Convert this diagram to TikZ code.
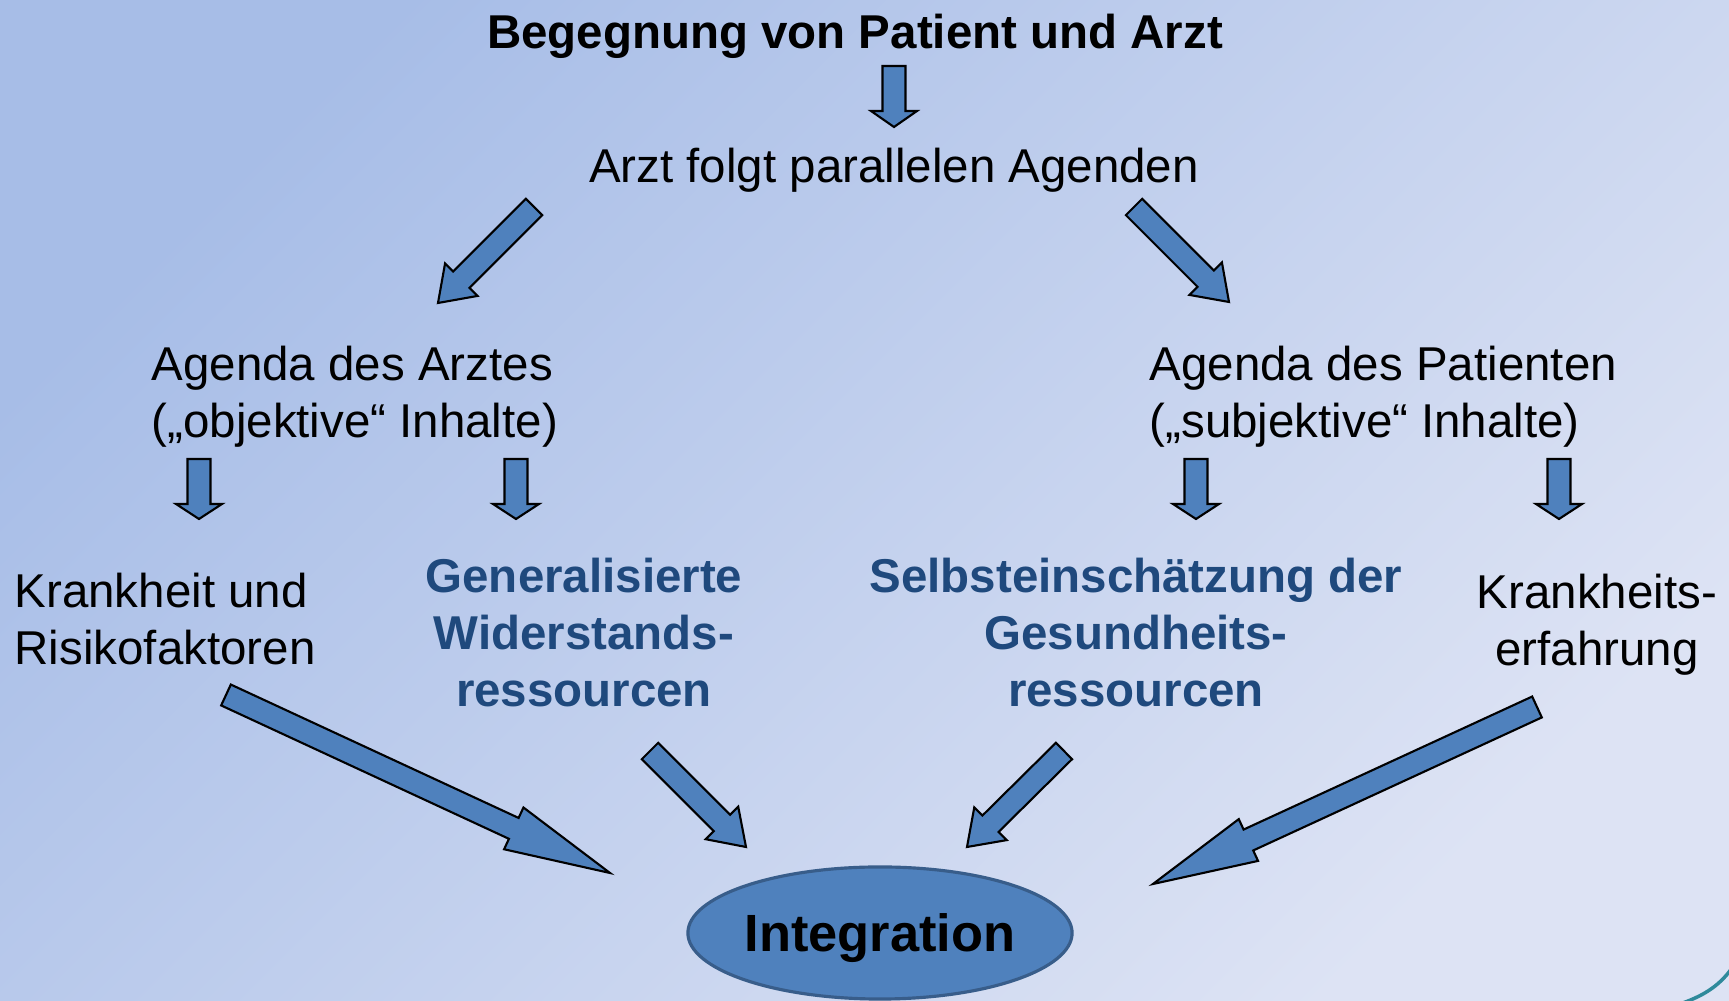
\documentclass[tikz,border=0pt]{standalone}
\usepackage{fontspec}
\setmainfont{Liberation Sans}
\usetikzlibrary{calc,shapes.geometric}
\definecolor{arrowblue}{HTML}{4F81BD}
\definecolor{ovalline}{HTML}{385D8A}
\definecolor{textblue}{HTML}{1F497D}
\definecolor{bgtop}{HTML}{A7BDE7}
\definecolor{bgbottom}{HTML}{DDE3F4}
\definecolor{swoosh}{HTML}{2F8A9B}
\tikzset{
  fatarrow/.style={fill=arrowblue,draw=black,line width=0.6pt,line join=miter},
  txt/.style={inner sep=0pt,font=\fontsize{13.5}{16.3}\selectfont},
  boldtxt/.style={inner sep=0pt,font=\fontsize{13.5}{16.3}\selectfont\bfseries},
  res/.style={boldtxt,text=textblue,align=center}
}
% block arrow: tail, tip, head length
\newcommand{\fatarrow}[3]{%
  \coordinate (hb) at ($(#2)!#3!(#1)$);
  \draw[fatarrow] ($(#1)!0.115cm!90:(#2)$) -- ($(hb)!0.115cm!90:(#2)$) -- ($(hb)!0.23cm!90:(#2)$) -- (#2)
    -- ($(hb)!0.23cm!-90:(#2)$) -- ($(hb)!0.115cm!-90:(#2)$) -- ($(#1)!0.115cm!-90:(#2)$) -- cycle;
}

\begin{document}
\begin{tikzpicture}[x=0.01cm,y=-0.01cm]
    \useasboundingbox (0,0) rectangle (1729,1001);
    \shade[top color=bgtop,bottom color=bgbottom,shading angle=45] (0,0) rectangle (1729,1001);
    \draw[swoosh,line width=1pt] (1680,1004) .. controls (1700,997) and (1718,988) .. (1732,968);

    \node at (855,48.5) [boldtxt,anchor=base] (title) {Begegnung von Patient und Arzt};
    \node at (894,183) [txt,anchor=base] (parallel) {Arzt folgt parallelen Agenden};
    \node at (151,438) [txt,align=left,anchor=base west] (agarzt) {Agenda des Arztes\\(„objektive“ Inhalte)};
    \node at (1149,438) [txt,align=left,anchor=base west] (agpat) {Agenda des Patienten\\(„subjektive“ Inhalte)};
    \node at (14,665) [txt,align=left,anchor=base west] (risk) {Krankheit und\\Risikofaktoren};
    \node at (584,707) [res,anchor=base] (gwr) {Generalisierte\\Widerstands-\\ressourcen};
    \node at (1136,707) [res,anchor=base] (sgr) {Selbsteinschätzung der\\Gesundheits-\\ressourcen};
    \node at (1597,666) [txt,align=center,anchor=base] (erfahr) {Krankheits-\\erfahrung};
    \node at (880,933) [ellipse,draw=ovalline,line width=0.9pt,fill=arrowblue,inner sep=0pt,text depth=0pt,
      minimum width=3.84cm,minimum height=1.32cm,font=\fontsize{14.9}{18}\selectfont\bfseries] (integ) {Integration};

    % arrow ends
    \coordinate (t0) at (894,66);   \coordinate (h0) at (894,127);
    \coordinate (t1) at (534,207);  \coordinate (h1) at (438,303);
    \coordinate (t2) at (1134,207); \coordinate (h2) at (1229,302);
    \coordinate (t3) at (199,459);  \coordinate (h3) at (199,519);
    \coordinate (t4) at (516,459);  \coordinate (h4) at (516,519);
    \coordinate (t5) at (1196,459); \coordinate (h5) at (1196,519);
    \coordinate (t6) at (1559,459); \coordinate (h6) at (1559,519);
    \coordinate (t7) at (226,695);  \coordinate (h7) at (610,873);
    \coordinate (t8) at (650,751);  \coordinate (h8) at (746,847);
    \coordinate (t9) at (1064,751); \coordinate (h9) at (967,847);
    \coordinate (t10) at (1537,707); \coordinate (h10) at (1153,884);

    \fatarrow{t0}{h0}{0.16cm}
    \fatarrow{t1}{h1}{0.33cm}
    \fatarrow{t2}{h2}{0.33cm}
    \foreach \i in {3,...,6}
      {\fatarrow{t\i}{h\i}{0.15cm}}
    \fatarrow{t7}{h7}{1.06cm}
    \fatarrow{t8}{h8}{0.34cm}
    \fatarrow{t9}{h9}{0.33cm}
    \fatarrow{t10}{h10}{1.05cm}
\end{tikzpicture}
\end{document}
